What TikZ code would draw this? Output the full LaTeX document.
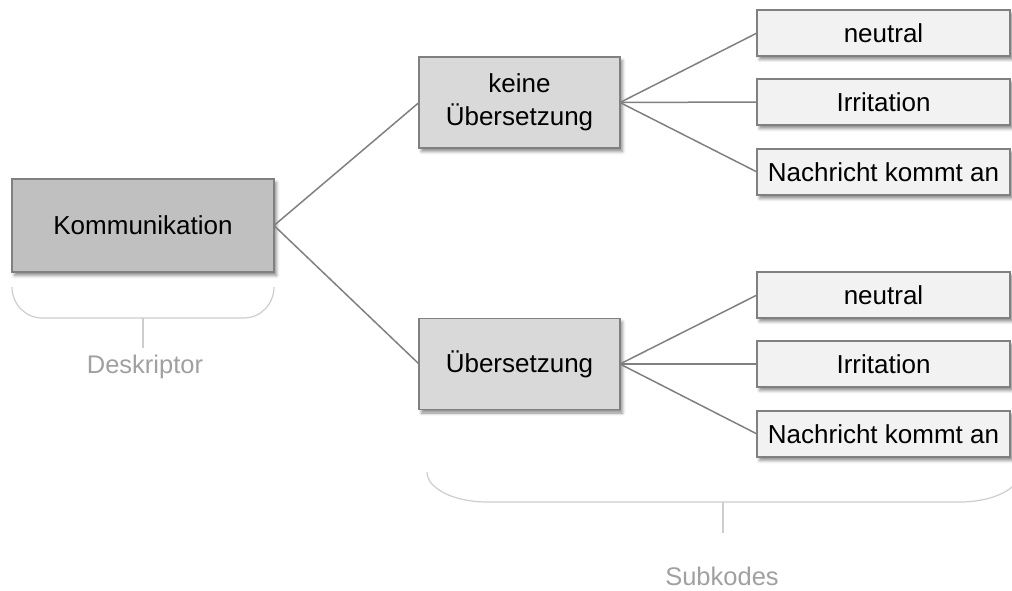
\documentclass[tikz,border=0pt]{standalone}
\usepackage{fontspec}
\setmainfont{Liberation Sans}
\usetikzlibrary{shadows.blur}
\definecolor{mainfill}{RGB}{192,192,192}
\definecolor{midfill}{RGB}{217,217,217}
\definecolor{leaffill}{RGB}{242,242,242}
\definecolor{boxline}{RGB}{128,128,128}
\definecolor{connline}{RGB}{128,128,128}
\definecolor{bracegray}{RGB}{205,205,205}
\definecolor{labelgray}{RGB}{160,160,160}
\begin{document}
\begin{tikzpicture}[x=1pt,y=-1pt,
  box/.style={draw=boxline, line width=1.3pt, inner sep=0pt, outer sep=0pt,
    align=center, text=black, font=\fontsize{26}{33}\selectfont,
    blur shadow={shadow xshift=2.5pt, shadow yshift=-3.5pt,
      shadow blur radius=3pt, shadow opacity=45}},
  rootbox/.style={box, fill=mainfill, minimum width=262pt, minimum height=93pt},
  midbox/.style={box, fill=midfill, minimum width=201pt, minimum height=91pt},
  leafbox/.style={box, fill=leaffill, minimum width=253pt, minimum height=46pt},
  conn/.style={draw=connline, line width=1.5pt},
  bracket/.style={draw=bracegray, line width=1.2pt},
  lbl/.style={text=labelgray, font=\fontsize{25.5}{30}\selectfont, inner sep=0pt, anchor=base}]
\useasboundingbox (0,0) rectangle (1012,591);

% descriptor, categories and subcodes
\node[rootbox] (komm) at (143,225.5) {Kommunikation};
\node[midbox] (keine) at (519.5,102.5) {keine\\Übersetzung};
\node[midbox] (ueber) at (519.5,364) {Übersetzung};

\node[leafbox] (k1) at (883.5,33) {neutral};
\node[leafbox] (k2) at (883.5,102) {Irritation};
\node[leafbox] (k3) at (883.5,172) {Nachricht kommt an};
\node[leafbox] (u1) at (883.5,295) {neutral};
\node[leafbox] (u2) at (883.5,364) {Irritation};
\node[leafbox] (u3) at (883.5,434) {Nachricht kommt an};

% tree connectors
\draw[conn] (komm.east) -- (keine.west);
\draw[conn] (komm.east) -- (ueber.west);
\foreach \leaf in {k1,k2,k3} \draw[conn] (keine.east) -- (\leaf.west);
\foreach \leaf in {u1,u2,u3} \draw[conn] (ueber.east) -- (\leaf.west);

% bracket under the descriptor
\coordinate (dtick) at (143,318);
\coordinate (dtickend) at (143,348);
\draw[bracket] (12,287) arc[start angle=180, end angle=90, x radius=30, y radius=31]
  -- (244,318) arc[start angle=90, end angle=0, x radius=30, y radius=31];
\draw[bracket] (dtick) -- (dtickend);
\node[lbl] (desk) at (145,373) {Deskriptor};

% bracket under the subcodes
\coordinate (stick) at (723,502);
\coordinate (stickend) at (723,533);
\draw[bracket] (427,472) arc[start angle=180, end angle=90, x radius=60, y radius=30]
  -- (960,502) arc[start angle=90, end angle=0, x radius=60, y radius=30];
\draw[bracket] (stick) -- (stickend);
\node[lbl] (sub) at (722,585) {Subkodes};
\end{tikzpicture}
\end{document}
